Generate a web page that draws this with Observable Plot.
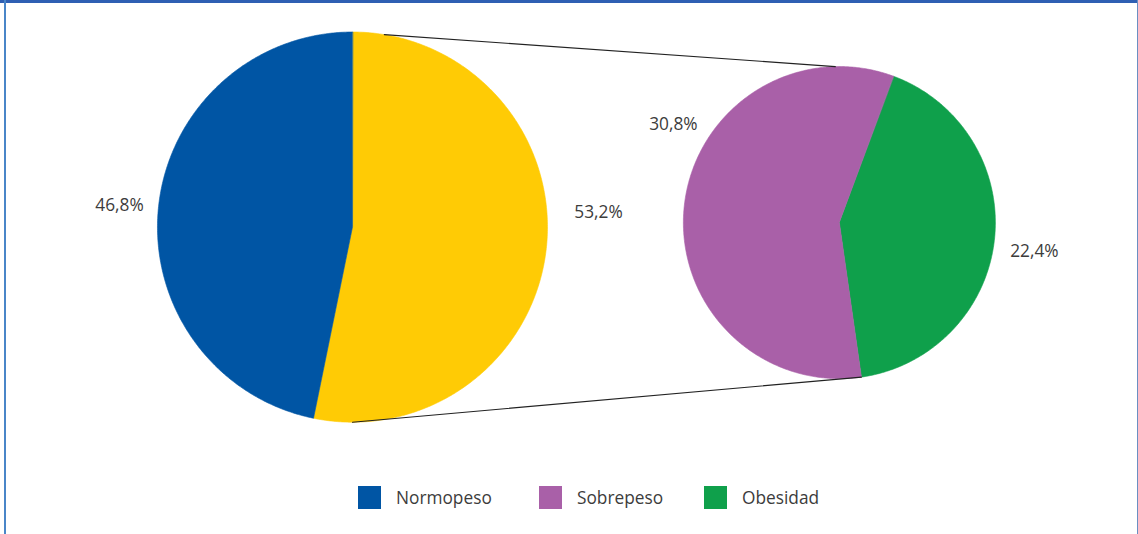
<!DOCTYPE html>
<html><head><meta charset="utf-8">
<script src="https://cdn.jsdelivr.net/npm/d3@7"></script>
<script src="https://cdn.jsdelivr.net/npm/@observablehq/plot@0.6"></script>
<style>
body{margin:0;background:#fff;font-family:"Open Sans",sans-serif;}
#frame{position:relative;width:1138px;height:534px;overflow:hidden;background:#fff;}
#frame svg{position:absolute;left:0;top:0;}
.bt{position:absolute;left:0;top:0;width:1138px;height:3px;background:#2f5fb3;}
.bl{position:absolute;left:4px;top:0;width:2px;height:534px;background:#4a86c8;}
.br{position:absolute;left:1137px;top:0;width:1px;height:534px;background:#6a8fc2;}
#legend{position:absolute;left:358px;top:486px;display:flex;align-items:center;}
#legend .it{display:flex;align-items:center;}
#legend .it:nth-child(1){width:181px;}
#legend .it:nth-child(2){width:165px;}
#legend .sw{width:23px;height:23px;}
#legend .tx{margin-left:15px;font-size:17.3px;color:#3c3c3c;line-height:23px;white-space:nowrap;}
</style></head><body><div id="frame"></div>
<script>
// ---- data ----
const categories = ["Normopeso", "Sobrepeso", "Obesidad"];
const values = [46.8, 30.8, 22.4];
const valueLabels = ["46,8%", "30,8%", "22,4%"];
const otherName = "Sobrepeso + Obesidad";
const otherValue = 53.2;
const otherLabel = "53,2%";
const colors = ["#0055a4", "#a960a8", "#0fa04b"];
const otherColor = "#ffcb05";

// ---- layout (geometry of the pie-of-pie) ----
const layout = {
  main: {cx: 0, cy: 0, r: 1, start: 0},           // "other" slice starts at 12 o'clock
  second: {cx: 2.497, cy: 0.023, r: 0.8, start: 20.3}, // secondary pie rotation
  labelPos: { // angle (deg, clockwise from top) and radius factor for the labels
    "Normopeso": [275.3, 1.2],
    [otherName]: [86.6, 1.264],
    "Sobrepeso": [300.6, 1.236],
    "Obesidad": [98.5, 1.264]
  },
  connectors: [[9.4, -1.5], [180, null]] // null -> edge between secondary slices
};

const rad = a => a * Math.PI / 180;
const pt = (p, a, f = 1) => [p.cx + p.r * f * Math.sin(rad(a)), p.cy + p.r * f * Math.cos(rad(a))];

function slices(pie, items) {
  const total = d3.sum(items, d => d.value);
  let a = pie.start;
  return items.map(d => {
    const span = d.value / total * 360;
    const s = {...d, a0: a, a1: a + span, pie};
    a += span;
    return s;
  });
}

const mainSlices = slices(layout.main, [
  {name: otherName, value: otherValue, label: otherLabel, color: otherColor},
  {name: categories[0], value: values[0], label: valueLabels[0], color: colors[0]}
]);
const secondSlices = slices(layout.second, [
  {name: categories[2], value: values[2], label: valueLabels[2], color: colors[2]},
  {name: categories[1], value: values[1], label: valueLabels[1], color: colors[1]}
]);
const allSlices = [...mainSlices, ...secondSlices];

// polygon vertices for every slice
const poly = [];
allSlices.forEach(s => {
  const p = s.pie;
  poly.push({id: s.name, name: s.name, x: p.cx, y: p.cy});
  const n = Math.ceil((s.a1 - s.a0) * 2);
  for (let i = 0; i <= n; i++) {
    const [x, y] = pt(p, s.a0 + (s.a1 - s.a0) * i / n);
    poly.push({id: s.name, name: s.name, x, y});
  }
});

// connector lines
const splitAngle = secondSlices[0].a1;
const conn = [];
layout.connectors.forEach((c, i) => {
  const [x1, y1] = pt(layout.main, c[0]);
  const [x2, y2] = pt(layout.second, c[1] == null ? splitAngle : c[1]);
  conn.push({k: i, x: x1, y: y1}, {k: i, x: x2, y: y2});
});

// labels
const labelData = allSlices.map(s => {
  const [a, f] = layout.labelPos[s.name];
  const [x, y] = pt(s.pie, a, f);
  return {x, y, label: s.label};
});

const W = 1138, H = 470;
const chart = Plot.plot({
  width: W, height: H,
  margin: 0,
  x: {domain: [-1.805, 4.031], axis: null},
  y: {domain: [-1.2477, 1.1615], axis: null},
  color: {domain: allSlices.map(s => s.name), range: allSlices.map(s => s.color)},
  style: {background: "transparent", fontFamily: "'Open Sans', sans-serif"},
  marks: [
    Plot.line(poly, {x: "x", y: "y", z: "id", fill: "name", stroke: "name", strokeWidth: 0.6, curve: "linear-closed"}),
    Plot.line(conn, {x: "x", y: "y", z: "k", stroke: "#222", strokeWidth: 1.1}),
    Plot.text(labelData, {x: "x", y: "y", text: "label", fontSize: 17.3, fill: "#3c3c3c"})
  ]
});

const frame = document.getElementById("frame");
frame.appendChild(chart);
["bt", "bl", "br"].forEach(c => { const d = document.createElement("div"); d.className = c; frame.appendChild(d); });
const legend = document.createElement("div");
legend.id = "legend";
categories.forEach((c, i) => {
  const it = document.createElement("div"); it.className = "it";
  const sw = document.createElement("div"); sw.className = "sw"; sw.style.background = colors[i];
  const tx = document.createElement("div"); tx.className = "tx"; tx.textContent = c;
  it.appendChild(sw); it.appendChild(tx); legend.appendChild(it);
});
frame.appendChild(legend);
</script></body></html>
